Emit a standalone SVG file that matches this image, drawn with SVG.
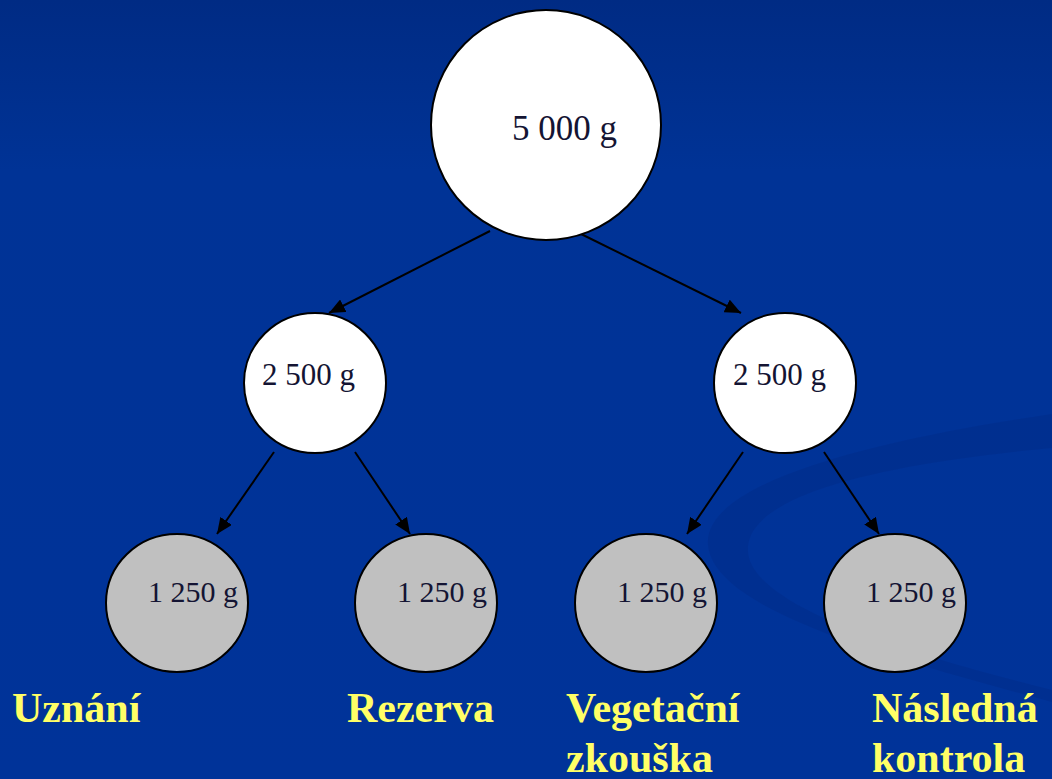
<svg xmlns="http://www.w3.org/2000/svg" width="1052" height="779" viewBox="0 0 1052 779">
  <defs>
    <linearGradient id="bg" x1="0" y1="0" x2="0" y2="1">
      <stop offset="0" stop-color="#002b84"/>
      <stop offset="0.22" stop-color="#003396"/>
      <stop offset="1" stop-color="#003399"/>
    </linearGradient>
    <marker id="arrow" viewBox="0 0 16 14" refX="16" refY="7" markerWidth="16" markerHeight="14" markerUnits="userSpaceOnUse" orient="auto">
      <path d="M0,0 L16,7 L0,14 Z" fill="#000"/>
    </marker>
    <style>
      .white { fill: #ffffff; stroke: #000; stroke-width: 2; }
      .grey { fill: #c0c0c0; stroke: #000; stroke-width: 2; }
      .num { font-family: "Liberation Serif", serif; fill: #141433; }
      .lbl { font-family: "Liberation Serif", serif; font-weight: bold; font-size: 42px; fill: #ffff66; }
      .conn line { stroke: #000; stroke-width: 2; marker-end: url(#arrow); }
    </style>
  </defs>

  <!-- background -->
  <rect x="0" y="0" width="1052" height="779" fill="url(#bg)"/>
  <path d="M1052,414 C900,436 702,478 708,545 C714,612 900,660 1052,702 L1052,690 C900,652 742,604 748,546 C754,490 900,462 1052,448 Z" fill="#002a85" opacity="0.4"/>

  <!-- connectors -->
  <g id="connectors" class="conn">
    <line x1="490" y1="231" x2="329" y2="313"/>
    <line x1="575" y1="231" x2="741" y2="313"/>
    <line x1="274" y1="452" x2="217" y2="534"/>
    <line x1="355" y1="452" x2="410" y2="534"/>
    <line x1="743" y1="452" x2="687" y2="534"/>
    <line x1="824" y1="452" x2="879" y2="534"/>
  </g>

  <!-- nodes -->
  <g id="root">
    <ellipse class="white" cx="546" cy="125" rx="115" ry="115"/>
    <text class="num" x="512" y="140" font-size="35">5 000 g</text>
  </g>
  <g id="half-left">
    <ellipse class="white" cx="315" cy="383" rx="71" ry="70"/>
    <text class="num" x="262" y="385" font-size="31">2 500 g</text>
  </g>
  <g id="half-right">
    <ellipse class="white" cx="785" cy="383" rx="71" ry="70"/>
    <text class="num" x="733" y="385" font-size="31">2 500 g</text>
  </g>
  <g id="q1">
    <ellipse class="grey" cx="177" cy="603" rx="71" ry="69"/>
    <text class="num" x="148" y="602" font-size="30">1 250 g</text>
  </g>
  <g id="q2">
    <ellipse class="grey" cx="426" cy="603" rx="71" ry="69"/>
    <text class="num" x="397" y="602" font-size="30">1 250 g</text>
  </g>
  <g id="q3">
    <ellipse class="grey" cx="646" cy="603" rx="71" ry="69"/>
    <text class="num" x="617" y="602" font-size="30">1 250 g</text>
  </g>
  <g id="q4">
    <ellipse class="grey" cx="895" cy="603" rx="71" ry="69"/>
    <text class="num" x="866" y="602" font-size="30">1 250 g</text>
  </g>

  <!-- labels -->
  <g id="labels">
    <text class="lbl" x="12" y="722">Uznání</text>
    <text class="lbl" x="347" y="722">Rezerva</text>
    <text class="lbl" x="566" y="722">Vegetační</text>
    <text class="lbl" x="566" y="772">zkouška</text>
    <text class="lbl" x="872" y="722">Následná</text>
    <text class="lbl" x="872" y="772">kontrola</text>
  </g>
</svg>
